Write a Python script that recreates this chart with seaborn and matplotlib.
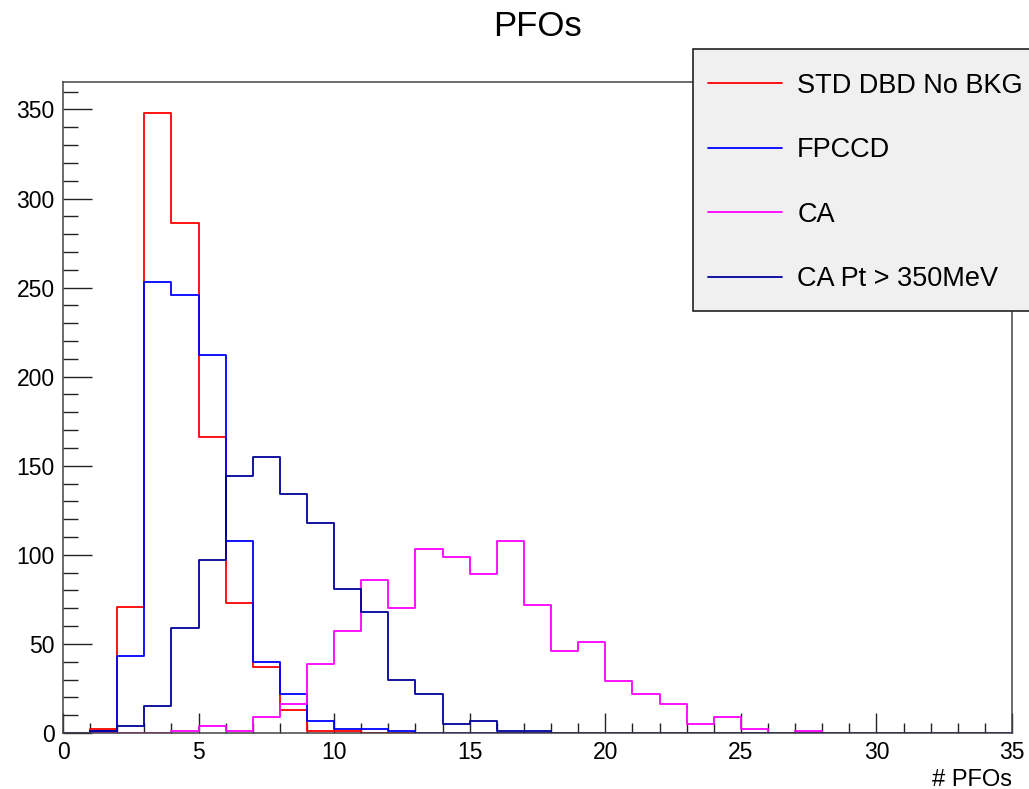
import numpy as np
import pandas as pd
import matplotlib
matplotlib.use("Agg")
import matplotlib.pyplot as plt
from matplotlib.patches import Rectangle
from matplotlib.ticker import MultipleLocator
import seaborn as sns

# 35 unit-width bins from 0 to 35
bin_edges = np.arange(0, 36)
bin_centers = bin_edges[:-1] + 0.5

std_dbd = [0, 2, 71, 348, 286, 166, 73, 37, 13, 1, 1, 0, 0, 0, 0, 0, 0, 0,
           0, 0, 0, 0, 0, 0, 0, 0, 0, 0, 0, 0, 0, 0, 0, 0, 0]
fpccd = [0, 1, 43, 253, 246, 212, 108, 40, 22, 7, 2, 2, 1, 0, 0, 0, 0, 0,
         0, 0, 0, 0, 0, 0, 0, 0, 0, 0, 0, 0, 0, 0, 0, 0, 0]
ca = [0, 0, 0, 0, 1, 4, 1, 9, 16, 39, 57, 86, 70, 103, 99, 89, 108, 72,
      46, 51, 29, 22, 16, 5, 9, 2, 0, 1, 0, 0, 0, 0, 0, 0, 0]
ca_pt = [0, 1, 4, 15, 59, 97, 144, 155, 134, 118, 81, 68, 30, 22, 5, 7, 1, 1,
         0, 0, 0, 0, 0, 0, 0, 0, 0, 0, 0, 0, 0, 0, 0, 0, 0]

labels = ["STD DBD No BKG", "FPCCD", "CA", "CA Pt > 350MeV"]
colors = ["#ff0000", "#0000ff", "#ff00ff", "#000099"]
series = [std_dbd, fpccd, ca, ca_pt]

sns.set_style("ticks")
plt.rcParams["font.family"] = ["Liberation Sans", "DejaVu Sans"]
plt.rcParams["text.color"] = "black"
plt.rcParams["axes.labelcolor"] = "black"
plt.rcParams["xtick.color"] = "black"
plt.rcParams["ytick.color"] = "black"

W, H = 1029, 789
fig = plt.figure(figsize=(W / 100, H / 100), dpi=100)
fig.patch.set_facecolor("white")
ax = fig.add_axes([63 / W, 1 - 733 / H, (1012 - 63) / W, (733 - 82) / H])
ax.set_facecolor("white")

for lab, col, vals in zip(labels, colors, series):
    df = pd.DataFrame({"npfo": bin_centers, "count": vals})
    sns.histplot(data=df, x="npfo", weights="count",
                 binwidth=1, binrange=(bin_edges[0], bin_edges[-1]),
                 element="step", fill=False, color=col, linewidth=1.3,
                 label=lab, ax=ax)

ax.set_xlim(0, 35)
ax.set_ylim(0, 365.4)
ax.set_ylabel("")
ax.set_xlabel("# PFOs", loc="right", fontsize=17, labelpad=3)

ax.xaxis.set_major_locator(MultipleLocator(5))
ax.xaxis.set_minor_locator(MultipleLocator(1))
ax.yaxis.set_major_locator(MultipleLocator(50))
ax.yaxis.set_minor_locator(MultipleLocator(10))
ax.tick_params(axis="x", which="major", direction="in", length=14.4,
               width=1.0, labelsize=16.5, pad=6, color="#222222")
ax.tick_params(axis="x", which="minor", direction="in", length=7.2,
               width=1.0, color="#222222")
ax.tick_params(axis="y", which="major", direction="in", length=20.9,
               width=1.0, labelsize=16.5, pad=6, color="#222222")
ax.tick_params(axis="y", which="minor", direction="in", length=10.8,
               width=1.0, color="#222222")
for side in ["left", "bottom", "top", "right"]:
    ax.spines[side].set_visible(True)
    ax.spines[side].set_linewidth(1.1)
    ax.spines[side].set_color("#444444")

fig.text(537.5 / W, 1 - 27 / H, "PFOs", ha="center", va="center",
         fontsize=25)

# Legend panel
fig.patches.append(Rectangle((693 / W, 1 - 311 / H), (1030 - 693) / W,
                             (311 - 49) / H, transform=fig.transFigure,
                             facecolor="#f0f0f0", edgecolor="#222222",
                             linewidth=1.2, zorder=5))
handles, labs = ax.get_legend_handles_labels()
leg = fig.legend(handles, labs, loc="upper left",
                 bbox_to_anchor=(697 / W, 1 - 62 / H),
                 frameon=False, fontsize=19.5, handlelength=2.75,
                 handletextpad=0.55, labelspacing=1.42, borderaxespad=0)
leg.set_zorder(6)

fig.savefig("out.png", dpi=100, facecolor="white")
